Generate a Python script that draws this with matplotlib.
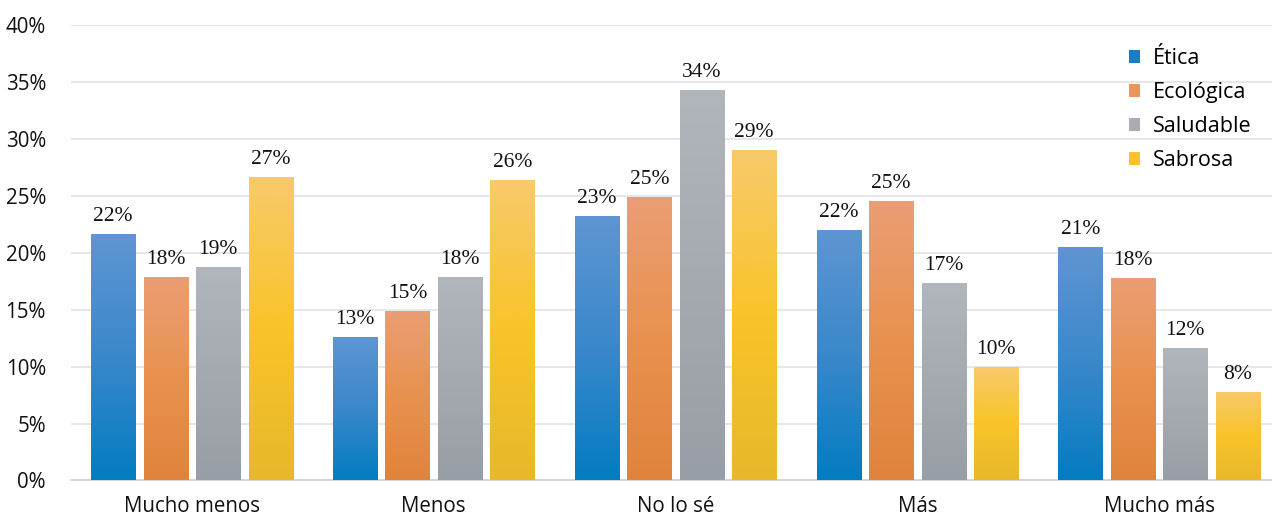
import matplotlib.pyplot as plt
import numpy as np
from matplotlib.colors import LinearSegmentedColormap
from matplotlib.patches import Patch

# datos (%)
categorias = ['Mucho menos', 'Menos', 'No lo sé', 'Más', 'Mucho más']
series = ['Ética', 'Ecológica', 'Saludable', 'Sabrosa']
etica = [21.6, 12.6, 23.2, 22.0, 20.5]
ecologica = [17.9, 14.9, 24.9, 24.5, 17.8]
saludable = [18.7, 17.9, 34.3, 17.3, 11.6]
sabrosa = [26.6, 26.4, 29.0, 10.0, 7.8]
valores = [etica, ecologica, saludable, sabrosa]

# degradados (abajo -> arriba)
gradientes = [
    ['#047cc1', '#3a88cb', '#5f95d2'],
    ['#e0843c', '#e8914f', '#eb9e75'],
    ['#989ea5', '#a5aab1', '#b1b5bc'],
    ['#e7b82b', '#f8c429', '#f8ca6c'],
]
colores_leyenda = ['#1a7ec4', '#e9955e', '#a9adb3', '#f8c42a']

fig = plt.figure(figsize=(12.72, 5.19), dpi=100)
ax = fig.add_axes([0.0558, 0.0742, 0.9505, 0.8782])

x = np.arange(len(categorias))
ancho = 0.182
paso = 0.217
offsets = [-1.5 * paso, -0.5 * paso, 0.5 * paso, 1.5 * paso]
grad = np.linspace(0, 1, 256).reshape(-1, 1)

for i, vals in enumerate(valores):
    cmap = LinearSegmentedColormap.from_list('g%d' % i, gradientes[i])
    bars = ax.bar(x + offsets[i], vals, width=ancho, facecolor='none',
                  edgecolor='none', zorder=3)
    for b, v in zip(bars, vals):
        x0 = b.get_x()
        im = ax.imshow(grad, extent=[x0, x0 + ancho, 0, v], origin='lower',
                       cmap=cmap, aspect='auto', zorder=3)
        im.set_clip_path(b)
        ax.text(x0 + ancho / 2, v + 0.7, '%d%%' % int(v + 0.5),
                ha='center', va='bottom', fontsize=15.5,
                family='Liberation Serif', color='#111111', zorder=4)

ax.set_xlim(-0.5, 4.5)
ax.set_ylim(0, 40)
ax.set_yticks(np.arange(0, 41, 5))
ax.set_yticklabels(['%d%%' % t for t in range(0, 41, 5)])
ax.set_xticks(x)
ax.set_xticklabels(categorias)
ax.tick_params(axis='both', length=0, labelsize=14.8, colors='#111111')
ax.tick_params(axis='y', pad=18)
ax.tick_params(axis='x', pad=11)
for lab in ax.get_xticklabels() + ax.get_yticklabels():
    lab.set_family('Open Sans')

ax.grid(axis='y', color='#e1e3e8', linewidth=1.2, zorder=0)
ax.set_axisbelow(True)
for s in ['top', 'right', 'left']:
    ax.spines[s].set_visible(False)
ax.spines['bottom'].set_color('#d3d7dd')
ax.spines['bottom'].set_linewidth(1.5)

handles = [Patch(facecolor=c, edgecolor='none') for c in colores_leyenda]
leg = fig.legend(handles, series, loc='upper left', bbox_to_anchor=(0.872, 0.945),
                 frameon=False, handlelength=0.55, handleheight=0.55,
                 handletextpad=0.6, labelspacing=0.6,
                 prop={'family': 'Open Sans', 'size': 15.5})

fig.savefig('out.png', dpi=100)
